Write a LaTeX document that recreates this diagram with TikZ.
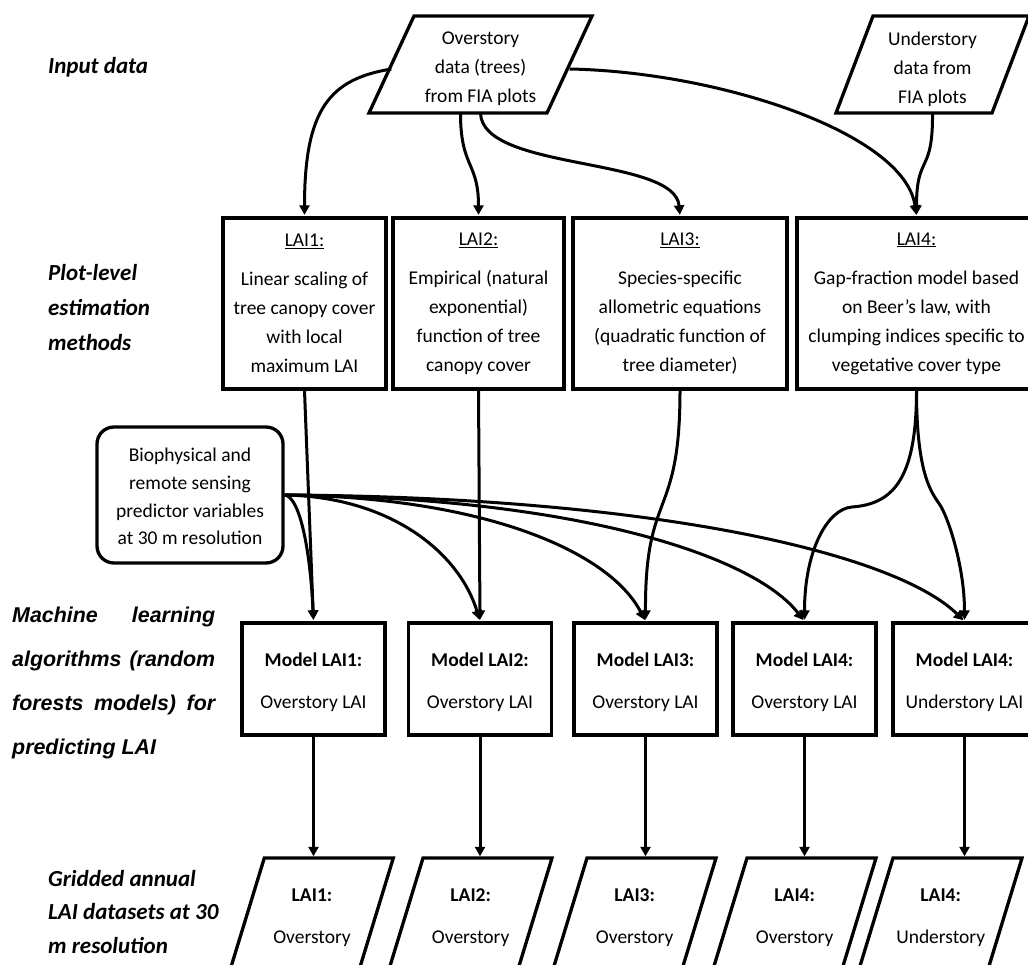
\documentclass[tikz,border=0pt]{standalone}
\usepackage{fontspec}
\setmainfont{Carlito}
\newfontfamily\arialfont{Liberation Sans}
\usetikzlibrary{arrows.meta,calc}
\newcommand\drawpara[5]{% node, half width, half height, skew, vertical offset of the shape centre
  \draw[boxline] ($(#1)+(-#2+#4,-#3+#5)$) -- ($(#1)+(#2+#4,-#3+#5)$) -- ($(#1)+(#2-#4,#3+#5)$) -- ($(#1)+(-#2-#4,#3+#5)$) -- cycle;}
\newcommand\mstrut{\rule{0pt}{21pt}}
\begin{document}
\begin{tikzpicture}[x=1pt,y=-1pt]
\tikzset{
  boxline/.style={line width=3.3pt, line join=miter},
  conn/.style={line width=3pt, -{Triangle[length=9.5pt,width=10pt]}, shorten >=1.5pt},
  lbl/.style={font=\fontsize{23}{35}\selectfont\bfseries\itshape, anchor=west, align=left, inner sep=0},
  laibox/.style={draw, boxline, inner sep=0, align=center, minimum height=171pt, font=\fontsize{19.5}{28.9}\selectfont},
  modelbox/.style={draw, boxline, inner sep=0, align=center, minimum width=143pt, minimum height=112pt, font=\fontsize{19.5}{42}\selectfont},
  gtxt/.style={inner sep=0, align=center, minimum width=129pt, minimum height=120pt, font=\fontsize{19.5}{42}\selectfont},
  ptxt/.style={inner sep=0, align=center, minimum height=88pt, font=\fontsize{19.5}{29}\selectfont},
}
\useasboundingbox (0,0) rectangle (1028,965);
\clip (0,0) rectangle (1028,965);

% left labels
\node[lbl] (inp) at (48,67) {Input data};
\node[lbl] (plot) at (48,308) {Plot-level\\estimation\\methods};
\node[inner sep=0, anchor=west, align=left, font=\arialfont\bfseries\itshape\fontsize{21.4}{44.3}\selectfont] (ml) at (12,683)
  {\makebox[203pt][s]{Machine learning}\\\makebox[203pt][s]{algorithms (random}\\\makebox[203pt][s]{forests models) for}\\\makebox[203pt][l]{predicting LAI}};
\node[lbl, font=\fontsize{23}{33.5}\selectfont\bfseries\itshape] (grid) at (48,912) {Gridded annual\\LAI datasets at 30\\m resolution};

% input data
\node[ptxt, minimum width=178pt] (ov) at (480.5,69) {Overstory\\data (trees)\\from FIA plots};
\drawpara{ov}{89}{48.5}{22.5}{-4.5}
\node[ptxt, minimum width=156pt] (un) at (932.5,69) {Understory\\data from\\FIA plots};
\drawpara{un}{78}{48.5}{18.5}{-4.5}

% plot-level boxes
\node[laibox, minimum width=163pt] (lai1) at (304.5,303.5) {\underline{LAI1:}\\[10.3pt]Linear scaling of\\tree canopy cover\\with local\\maximum LAI};
\node[laibox, minimum width=171pt] (lai2) at (478.5,303.5) {\underline{LAI2:}\\[10.3pt]Empirical (natural\\exponential)\\function of tree\\canopy cover};
\node[laibox, minimum width=214pt] (lai3) at (680,303.5) {\underline{LAI3:}\\[10.3pt]Species-specific\\allometric equations\\(quadratic function of\\tree diameter)};
\node[laibox, minimum width=239pt] (lai4) at (916.5,303.5) {\underline{LAI4:}\\[10.3pt]Gap-fraction model based\\on Beer's law, with\\clumping indices specific to\\vegetative cover type};

% biophysical
\node[draw, boxline, rounded corners=17pt, inner sep=0, align=center, minimum width=186pt, minimum height=136pt, font=\fontsize{19.5}{27.7}\selectfont] (bio) at (190,495) {\rule{0pt}{17pt}Biophysical and\\remote sensing\\predictor variables\\at 30 m resolution};

% model boxes
\node[modelbox] (m1) at (313.5,679) {\mstrut\textbf{Model LAI1:}\\Overstory LAI};
\node[modelbox] (m2) at (480,679) {\mstrut\textbf{Model LAI2:}\\Overstory LAI};
\node[modelbox] (m3) at (645.5,679) {\mstrut\textbf{Model LAI3:}\\Overstory LAI};
\node[modelbox] (m4) at (804.5,679) {\mstrut\textbf{Model LAI4:}\\Overstory LAI};
\node[modelbox] (m5) at (964.5,679) {\mstrut\textbf{Model LAI4:}\\Understory LAI};

% gridded outputs
\node[gtxt] (g1) at (312,918) {\textbf{LAI1:}\\Overstory};
\drawpara{g1}{64.5}{55}{16.8}{-5}
\node[gtxt] (g2) at (470.7,918) {\textbf{LAI2:}\\Overstory};
\drawpara{g2}{64.5}{55}{16.8}{-5}
\node[gtxt] (g3) at (634.7,918) {\textbf{LAI3:}\\Overstory};
\drawpara{g3}{64.5}{55}{16.8}{-5}
\node[gtxt] (g4) at (794.7,918) {\textbf{LAI4:}\\Overstory};
\drawpara{g4}{64.5}{55}{16.8}{-5}
\node[gtxt] (g5) at (940.7,918) {\textbf{LAI4:}\\Understory};
\drawpara{g5}{64.5}{55}{16.8}{-5}

% connectors: input -> plot-level
\draw[conn] (ov.west) .. controls +(-61,10) and +(0,-108) .. (lai1.north);
\draw[conn] ([xshift=-20pt]ov.south) .. controls +(0,55) and +(0,-55) .. (lai2.north);
\draw[conn] (ov.south) .. controls +(2,58) and +(-5,-60) .. (lai3.north);
\draw[conn] (ov.east) .. controls +(150,3) and +(-11.5,-83) .. (lai4.north);
\draw[conn] (un.south) .. controls +(0.5,62) and +(0,-63) .. (lai4.north);

% plot-level -> models
\coordinate (k4) at (852,507);
\coordinate (k5) at (940,505);
\draw[conn] (lai1.south) -- (m1.north);
\draw[conn] (lai2.south) -- (m2.north);
\draw[conn] (lai3.south) .. controls +(0,131) and +(-0.5,-133) .. (m3.north);
\draw[conn] (lai4.south) .. controls +(0,90) and +(40,-3) .. (k4) .. controls +(-25,2) and +(0,-70) .. (m4.north);
\draw[conn] (lai4.south) .. controls +(0,85) and +(-8,-12) .. (k5) .. controls +(8,12) and +(0,-55) .. (m5.north);

% predictors -> models
\draw[conn] (bio.east) .. controls +(16,2) and +(-3,-67) .. (m1.north);
\draw[conn] (bio.east) .. controls +(108,2) and +(-20,-67) .. (m2.north);
\draw[conn] (bio.east) .. controls +(199,2) and +(-36,-70) .. (m3.north);
\draw[conn] (bio.east) .. controls +(287,2) and +(-52,-67) .. (m4.north);
\draw[conn] (bio.east) .. controls +(375,2) and +(-68,-67) .. (m5.north);

% models -> gridded
\foreach \i in {1,...,5} {
  \draw[conn] (m\i.south) -- (m\i.south |- g\i.north);
}
\end{tikzpicture}
\end{document}
